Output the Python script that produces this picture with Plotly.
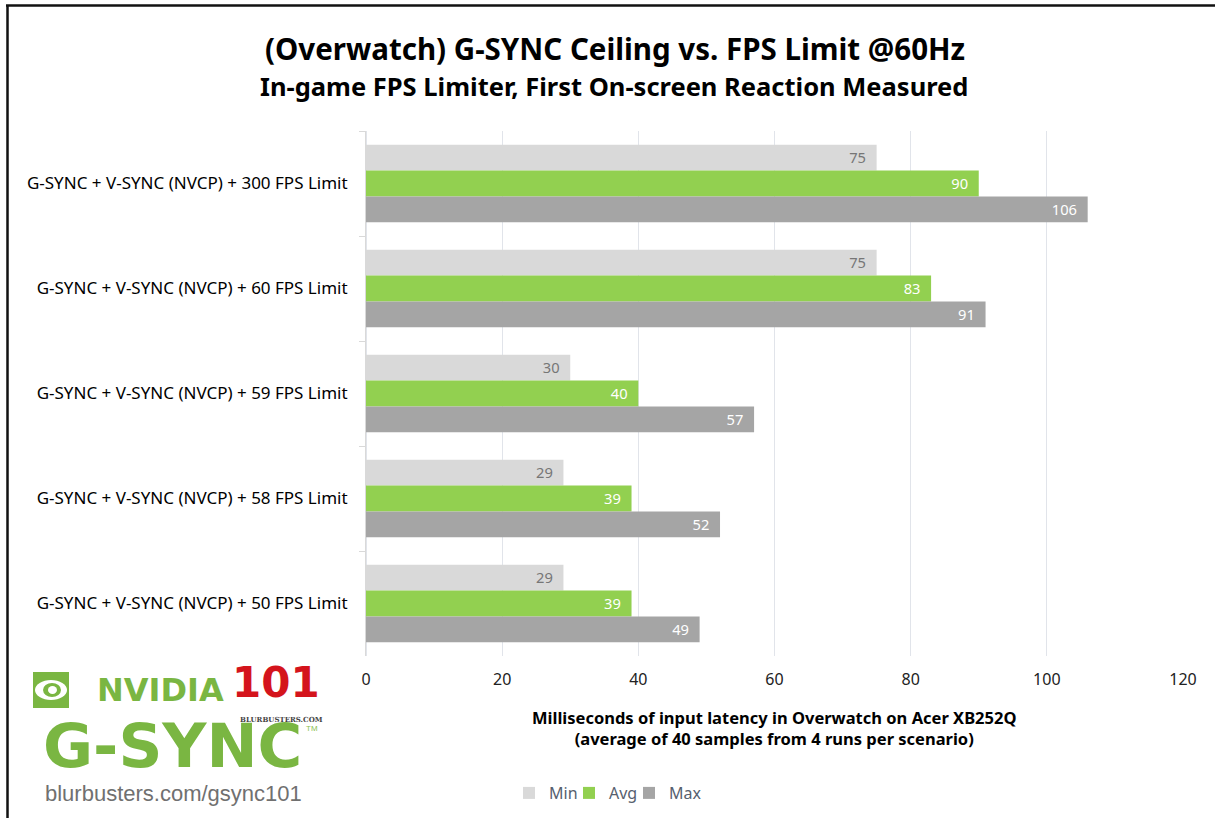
import plotly.graph_objects as go

W, H = 1215, 818

categories = [
    "G-SYNC + V-SYNC (NVCP) + 300 FPS Limit",
    "G-SYNC + V-SYNC (NVCP) + 60 FPS Limit",
    "G-SYNC + V-SYNC (NVCP) + 59 FPS Limit",
    "G-SYNC + V-SYNC (NVCP) + 58 FPS Limit",
    "G-SYNC + V-SYNC (NVCP) + 50 FPS Limit",
]
min_vals = [75, 75, 30, 29, 29]
avg_vals = [90, 83, 40, 39, 39]
max_vals = [106, 91, 57, 52, 49]
x_ticks = [0, 20, 40, 60, 80, 100, 120]

series = [
    ("Min", min_vals, "#d9d9d9", "#767676", "legend", 509),
    ("Avg", avg_vals, "#92d050", "#ffffff", "legend2", 569),
    ("Max", max_vals, "#a5a5a5", "#ffffff", "legend3", 629),
]


def px(x):
    return x / W


def py(y):
    return 1 - y / H


fig = go.Figure()
legends = {}
for name, vals, color, tcolor, leg, lx in series:
    fig.add_trace(go.Bar(
        y=categories, x=vals, name=name, orientation="h",
        marker=dict(color=color, line=dict(width=0)),
        texttemplate="%{x}\u00a0\u00a0", textposition="inside",
        insidetextanchor="end", textangle=0,
        textfont=dict(family="Noto Sans", size=17, color=tcolor),
        hoverinfo="skip", legend=leg,
    ))
    legends[leg] = dict(orientation="h", x=px(lx), xanchor="left", y=py(793), yanchor="middle",
                        font=dict(family="Noto Sans", size=16, color="#56606e"),
                        itemwidth=30, bgcolor="rgba(0,0,0,0)", borderwidth=0)

fig.update_layout(
    width=W, height=H, autosize=False,
    margin=dict(l=0, r=0, t=0, b=0, autoexpand=False),
    paper_bgcolor="white", plot_bgcolor="white",
    barmode="group", bargap=0.26, bargroupgap=0,
    font=dict(family="Noto Sans", color="#000000"),
    showlegend=True,
    **legends,
)

fig.update_xaxes(
    domain=[px(366), px(1183)], range=[0, 120], tickvals=x_ticks,
    showgrid=True, gridcolor="#e1e4ea", gridwidth=1,
    zeroline=True, zerolinecolor="#e1e4ea",
    showline=False, ticks="", automargin=False,
    tickfont=dict(family="Noto Sans", size=16, color="#222222"),
    ticklabelstandoff=12,
)
fig.update_yaxes(
    domain=[py(656), py(131)], autorange="reversed",
    showgrid=False, showline=True, linecolor="#d9d9d9", linewidth=1,
    ticks="outside", tickson="boundaries", ticklen=6, tickcolor="#d9d9d9",
    tickfont=dict(family="Noto Sans", size=17, color="#000000"),
    ticklabelstandoff=14, automargin=False,
)

annotations = [
    dict(text="<b>(Overwatch) G-SYNC Ceiling vs. FPS Limit @60Hz</b>", x=px(615), y=py(49),
         font=dict(family="Noto Sans", size=29.5, color="#000000")),
    dict(text="<b>In-game FPS Limiter, First On-screen Reaction Measured</b>", x=px(614), y=py(86),
         font=dict(family="Noto Sans", size=25.5, color="#000000")),
    dict(text="<b>Milliseconds of input latency in Overwatch on Acer XB252Q</b><br>"
              "<b>(average of 40 samples from 4 runs per scenario)</b>", x=px(774), y=py(728),
         font=dict(family="Noto Sans", size=16.5, color="#000000")),
    # logo texts
    dict(text="<b>NVIDIA</b>", x=px(160), y=py(690),
         font=dict(family="DejaVu Sans", size=32, color="#7ab642")),
    dict(text="<b>101</b>", x=px(276), y=py(682),
         font=dict(family="DejaVu Sans", size=42, color="#d4141c")),
    dict(text="<b>BLURBUSTERS.COM</b>", x=px(281), y=py(719),
         font=dict(family="DejaVu Serif", size=7, color="#444444")),
    dict(text="<b>G-SYNC</b>", x=px(172), y=py(745),
         font=dict(family="DejaVu Sans", size=61, color="#7ab642")),
    dict(text="TM", x=px(312), y=py(728),
         font=dict(family="Liberation Sans", size=8, color="#8cc152")),
    dict(text="blurbusters.com/gsync101", x=px(173), y=py(793),
         font=dict(family="Liberation Sans", size=22, color="#707070")),
]
for a in annotations:
    a.setdefault("xanchor", "center")
    a.update(xref="paper", yref="paper", yanchor="middle", showarrow=False)
fig.update_layout(annotations=annotations)

P = dict(xref="paper", yref="paper")
shapes = [
    # chart border (top and left)
    dict(type="line", x0=px(6), x1=1, y0=py(5.5), y1=py(5.5), line=dict(color="#111111", width=2.5), **P),
    dict(type="line", x0=px(7.5), x1=px(7.5), y0=py(5), y1=0, line=dict(color="#111111", width=2.5), **P),
    # nvidia eye badge
    dict(type="rect", x0=px(33), x1=px(69), y0=py(708), y1=py(672),
         fillcolor="#7ab642", line=dict(width=0), **P),
    dict(type="circle", x0=px(35), x1=px(67), y0=py(700), y1=py(680),
         fillcolor="white", line=dict(width=0), **P),
    dict(type="circle", x0=px(43), x1=px(61), y0=py(697), y1=py(683),
         fillcolor="#7ab642", line=dict(width=0), **P),
    dict(type="circle", x0=px(48), x1=px(57), y0=py(694), y1=py(686),
         fillcolor="white", line=dict(width=0), **P),
]
fig.update_layout(shapes=shapes)

fig.write_html(
    "out.html",
    config={"responsive": False, "displayModeBar": False},
    post_script="document.body.style.margin='0';document.body.style.overflow='hidden';",
)
